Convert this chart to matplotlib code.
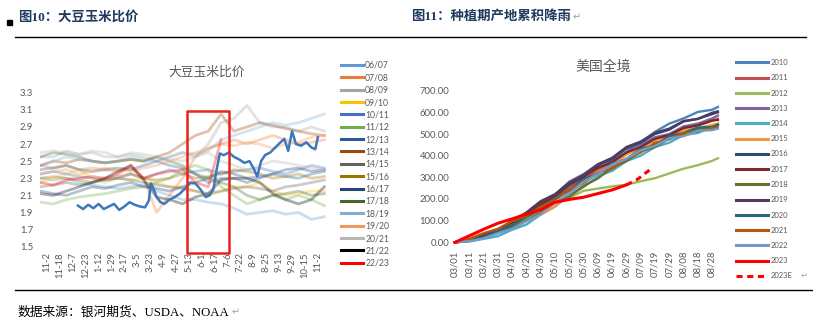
import matplotlib
matplotlib.use("Agg")
import matplotlib.pyplot as plt
import numpy as np
from matplotlib.lines import Line2D
from matplotlib.patches import Rectangle

W, H = 813, 324
CJK = ["Noto Sans CJK SC", "DejaVu Sans"]
SERIF_CJK = ["Liberation Serif", "Noto Sans CJK SC", "DejaVu Sans"]
LATIN = ["Lato", "DejaVu Sans"]
GREY = "#595959"

# ---------------- soybean / corn price ratio ----------------
ratio_ticks = ["11-2", "11-18", "12-7", "12-23", "1-12", "1-29", "2-17", "3-5",
               "3-23", "4-9", "4-27", "5-13", "6-1", "6-17", "7-6", "7-22",
               "8-9", "8-25", "9-13", "9-29", "10-15", "11-2"]
ratio_pos = np.arange(-0.5, 22.0, 1.0)

r0607 = [2.30, 2.28, 2.30, 2.25, 2.22, 2.20, 2.18, 2.20, 2.22, 2.15, 2.10, 2.05,
         2.05, 2.02, 2.00, 1.95, 1.88, 1.90, 1.92, 1.88, 1.90, 1.82, 1.85]
r0708 = [2.45, 2.42, 2.45, 2.40, 2.42, 2.40, 2.38, 2.42, 2.30, 1.90, 2.10, 2.30,
         2.55, 2.65, 2.70, 2.75, 2.70, 2.75, 2.80, 2.75, 2.70, 2.72, 2.75]
r0809 = [2.55, 2.55, 2.62, 2.58, 2.60, 2.55, 2.55, 2.58, 2.55, 2.50, 2.55, 2.60,
         2.55, 2.70, 2.95, 3.00, 3.15, 2.95, 2.90, 2.90, 2.85, 2.90, 2.85]
r0910 = [2.25, 2.30, 2.35, 2.40, 2.30, 2.25, 2.30, 2.28, 2.30, 2.25, 2.20, 2.20,
         2.15, 2.10, 2.15, 2.20, 2.20, 2.25, 2.15, 2.10, 2.12, 2.15, 2.15]
r1011 = [2.35, 2.38, 2.35, 2.32, 2.30, 2.28, 2.30, 2.35, 2.30, 2.35, 2.40, 2.35,
         2.38, 2.40, 2.35, 2.38, 2.40, 2.42, 2.38, 2.35, 2.40, 2.45, 2.42]
r1112 = [2.02, 2.00, 2.05, 2.08, 2.10, 2.12, 2.15, 2.18, 2.20, 2.25, 2.30, 2.40,
         2.45, 2.40, 2.20, 2.10, 2.00, 2.05, 2.10, 2.05, 2.10, 2.05, 1.98]
r1213 = [2.40, 2.42, 2.45, 2.40, 2.38, 2.40, 2.42, 2.40, 2.45, 2.50, 2.45, 2.42,
         2.35, 2.25, 2.30, 2.30, 2.25, 2.30, 2.35, 2.32, 2.30, 2.35, 2.38]
r1314 = [2.45, 2.50, 2.48, 2.52, 2.50, 2.48, 2.50, 2.52, 2.50, 2.55, 2.60, 2.70,
         2.80, 2.85, 3.05, 2.85, 2.90, 2.95, 2.92, 2.88, 2.85, 2.82, 2.80]
r1415 = [2.20, 2.22, 2.25, 2.22, 2.25, 2.28, 2.30, 2.28, 2.25, 2.22, 2.20, 2.18,
         2.15, 2.12, 2.15, 2.18, 2.20, 2.18, 2.15, 2.20, 2.22, 2.25, 2.28]
r1516 = [2.30, 2.32, 2.30, 2.28, 2.25, 2.30, 2.32, 2.35, 2.30, 2.28, 2.30, 2.35,
         2.30, 2.32, 2.35, 2.40, 2.38, 2.35, 2.30, 2.32, 2.35, 2.30, 2.32]
r1617 = [2.15, 2.12, 2.10, 2.15, 2.20, 2.18, 2.22, 2.25, 2.20, 2.18, 2.15, 2.20,
         2.25, 2.30, 2.38, 2.35, 2.30, 2.32, 2.35, 2.40, 2.42, 2.38, 2.40]
r1718 = [2.55, 2.60, 2.58, 2.55, 2.50, 2.48, 2.50, 2.52, 2.50, 2.55, 2.50, 2.45,
         2.35, 2.30, 2.25, 2.20, 2.10, 2.05, 2.10, 2.12, 2.15, 2.10, 2.12]
r1819 = [2.45, 2.50, 2.55, 2.52, 2.50, 2.48, 2.50, 2.55, 2.52, 2.50, 2.55, 2.60,
         2.58, 2.62, 2.75, 2.80, 2.85, 2.90, 2.95, 2.92, 2.95, 3.00, 3.05]
r1920 = [2.35, 2.38, 2.40, 2.35, 2.38, 2.42, 2.40, 2.38, 2.42, 2.45, 2.50, 2.55,
         2.60, 2.65, 2.70, 2.68, 2.72, 2.70, 2.65, 2.70, 2.72, 2.78, 2.80]
r2021 = [2.60, 2.62, 2.60, 2.58, 2.62, 2.60, 2.55, 2.60, 2.58, 2.55, 2.52, 2.50,
         2.55, 2.60, 2.50, 2.45, 2.40, 2.45, 2.50, 2.48, 2.45, 2.42, 2.40]
r2122 = [2.12, 2.10, 2.15, 2.20, 2.25, 2.30, 2.38, 2.45, 2.28, 2.08, 2.05, 2.00,
         2.08, 2.12, 2.28, 2.30, 2.30, 2.25, 2.12, 2.05, 2.00, 2.05, 2.20]
r2223 = [2.25, 2.22, 2.28, 2.30, 2.32, 2.30, 2.35, 2.45, 2.30, 2.35, 2.38, 2.40,
         2.25, 2.20, 2.75]

ratio_labels = ["06/07", "07/08", "08/09", "09/10", "10/11", "11/12", "12/13",
                "13/14", "14/15", "15/16", "16/17", "17/18", "18/19", "19/20",
                "20/21", "21/22", "22/23"]
ratio_series = [r0607, r0708, r0809, r0910, r1011, r1112, r1213, r1314, r1415,
                r1516, r1617, r1718, r1819, r1920, r2021, r2122, r2223]
ratio_colors = ["#5B9BD5", "#ED7D31", "#A5A5A5", "#FFC000", "#4472C4", "#70AD47",
                "#255E91", "#9E480E", "#636363", "#997300", "#264478", "#43682B",
                "#7CAFDD", "#F1975A", "#B7B7B7", "#000000", "#FF0000"]

# highlighted current line
bold_x = [2.4, 2.8, 3.2, 3.6, 4.0, 4.4, 4.8, 5.2, 5.6, 6.0, 6.4, 6.8, 7.2, 7.6,
          7.9, 8.05, 8.2, 8.5, 8.8, 9.1, 9.5, 9.9, 10.3, 10.7, 11.1, 11.5, 11.9,
          12.3, 12.6, 12.9, 13.15, 13.4, 13.7, 14.1, 14.5, 14.9, 15.3, 15.7,
          16.0, 16.3, 16.6, 16.9, 17.3, 17.7, 18.1, 18.4, 18.7, 19.0, 19.3,
          19.7, 20.1, 20.5, 20.8, 21.0]
bold_y = [1.98, 1.94, 1.99, 1.95, 2.00, 1.94, 1.97, 2.00, 1.93, 1.97, 2.02, 1.99,
          1.97, 1.96, 2.04, 2.24, 2.20, 2.08, 2.02, 2.00, 2.05, 2.08, 2.12, 2.18,
          2.25, 2.24, 2.17, 2.08, 2.10, 2.17, 2.40, 2.59, 2.57, 2.60, 2.55, 2.52,
          2.48, 2.50, 2.42, 2.32, 2.50, 2.57, 2.60, 2.66, 2.72, 2.76, 2.62, 2.85,
          2.70, 2.68, 2.72, 2.66, 2.64, 2.78]

window_x = (10.85, 14.1)
window_y = (1.43, 3.09)

# ---------------- cumulative rainfall ----------------
rain_ticks = ["03/01", "03/11", "03/21", "03/31", "04/10", "04/20", "04/30",
              "05/10", "05/20", "05/30", "06/09", "06/19", "06/29", "07/09",
              "07/19", "07/29", "08/08", "08/18", "08/28"]
rain_days = [0, 10, 20, 30, 40, 50, 60, 70, 80, 90, 100, 110, 120, 130, 140,
             150, 160, 170, 180, 184]

y2010 = [0, 8, 22, 48, 72, 112, 148, 198, 240, 292, 330, 378, 415, 462, 510, 548, 572, 602, 612, 625]
y2011 = [0, 14, 32, 52, 88, 118, 165, 200, 255, 290, 340, 365, 410, 435, 475, 495, 528, 540, 562, 570]
y2012 = [0, 10, 26, 52, 75, 112, 140, 182, 205, 238, 248, 258, 266, 282, 296, 318, 340, 356, 376, 388]
y2013 = [0, 10, 28, 48, 90, 132, 185, 220, 280, 315, 360, 385, 430, 450, 485, 500, 535, 548, 572, 585]
y2014 = [0, 4, 16, 28, 58, 82, 128, 165, 218, 255, 305, 330, 375, 400, 440, 460, 495, 505, 532, 545]
y2015 = [0, 12, 28, 58, 78, 98, 128, 165, 230, 270, 325, 355, 405, 435, 472, 490, 518, 528, 542, 548]
y2016 = [0, 12, 36, 58, 94, 122, 172, 212, 265, 300, 355, 385, 435, 460, 500, 520, 558, 570, 598, 605]
y2017 = [0, 10, 32, 55, 92, 128, 178, 216, 272, 305, 345, 370, 415, 440, 478, 495, 528, 540, 562, 565]
y2018 = [0, 8, 24, 48, 68, 102, 136, 185, 210, 260, 295, 345, 375, 420, 440, 480, 495, 524, 532, 545]
y2019 = [0, 10, 32, 58, 98, 138, 190, 222, 275, 310, 360, 390, 440, 465, 505, 525, 560, 570, 592, 600]
y2020 = [0, 8, 22, 52, 78, 118, 152, 204, 240, 290, 315, 360, 385, 430, 450, 490, 505, 530, 532, 540]
y2021 = [0, 16, 42, 62, 98, 122, 164, 196, 245, 275, 320, 340, 385, 415, 460, 475, 505, 512, 528, 530]
y2022 = [0, 5, 18, 42, 62, 98, 130, 185, 225, 280, 315, 360, 385, 425, 445, 480, 490, 515, 518, 525]

days_2023 = [0, 10, 20, 30, 40, 50, 60, 70, 80, 90, 100, 110, 120]
y2023 = [0, 30, 60, 88, 108, 130, 150, 185, 198, 208, 225, 242, 265]
days_2023e = [120, 128, 133, 138]
y2023e = [265, 292, 318, 342]

rain_labels = ["2010", "2011", "2012", "2013", "2014", "2015", "2016", "2017",
               "2018", "2019", "2020", "2021", "2022"]
rain_series = [y2010, y2011, y2012, y2013, y2014, y2015, y2016, y2017, y2018,
               y2019, y2020, y2021, y2022]
rain_colors = ["#4F81BD", "#C0504D", "#9BBB59", "#8064A2", "#4BACC6", "#F79646",
               "#2C4D75", "#772C2A", "#5F7530", "#4D3B62", "#276A7C", "#B65708",
               "#729ACA"]


def px_axes(fig, left, top, right, bottom):
    """axes from pixel box measured from the top-left corner"""
    return fig.add_axes([left / W, 1 - bottom / H, (right - left) / W, (bottom - top) / H])


def return_mark(ax, anchor, size=7):
    """grey paragraph mark right after a text"""
    ax.annotate("↵", xy=(1, 0.45), xycoords=anchor, xytext=(1, 0),
                textcoords="offset points", fontsize=size, color="#A0A0A0",
                va="center", ha="left", family=["DejaVu Sans"],
                annotation_clip=False)


fig = plt.figure(figsize=(W / 100, H / 100), dpi=100)

# page decorations
fig.add_artist(Line2D([15 / W, 806 / W], [1 - 37 / H] * 2, color="black", lw=1.0))
fig.add_artist(Line2D([15 / W, 812 / W], [1 - 290 / H] * 2, color="black", lw=1.0))
fig.add_artist(Rectangle((7 / W, 1 - 25 / H), 5 / W, 5 / H, color="black"))
fig.text(18 / W, 1 - 17 / H, "图10：大豆玉米比价", family=SERIF_CJK, weight="bold",
         fontsize=9.6, color="#1F3A5F", va="center")
title2 = fig.text(411 / W, 1 - 17 / H, "图11：种植期产地累积降雨", family=SERIF_CJK,
                  weight="bold", fontsize=9.6, color="#1F3A5F", va="center")
source = fig.text(18 / W, 1 - 312 / H, "数据来源：银河期货、USDA、NOAA", family=SERIF_CJK,
                  fontsize=9.2, color="black", va="center")

# ---- left chart ----
ax1 = px_axes(fig, 40, 92.7, 330, 246.7)
for label, vals, col in zip(ratio_labels, ratio_series, ratio_colors):
    ax1.plot(ratio_pos[:len(vals)], vals, color=col, lw=2.0, alpha=0.33,
             solid_joinstyle="round")
ax1.plot(bold_x, bold_y, color="#3D78B8", lw=1.8, solid_joinstyle="round")
ax1.add_patch(Rectangle((window_x[0], window_y[0]), window_x[1] - window_x[0],
                        window_y[1] - window_y[0], fill=False, ec="#E8231C",
                        lw=1.8, joinstyle="round", clip_on=False, zorder=5))
ax1.set_xlim(-0.54, 21.94)
ax1.set_ylim(1.5, 3.3)
ax1.set_yticks(np.arange(1.5, 3.31, 0.2))
ax1.set_yticklabels([f"{v:.1f}" for v in np.arange(1.5, 3.31, 0.2)])
ax1.set_xticks(range(len(ratio_ticks)))
ax1.set_xticklabels(ratio_ticks, rotation=90)
ax1.tick_params(length=0, labelsize=6.8, labelcolor=GREY)
ax1.tick_params(axis="y", pad=5)
ax1.tick_params(axis="x", pad=4)
for lab in ax1.get_xticklabels() + ax1.get_yticklabels():
    lab.set_family(LATIN)
for s in ax1.spines.values():
    s.set_visible(False)
ax1.set_facecolor("none")
fig.text(207 / W, 1 - 72 / H, "大豆玉米比价", family=CJK, fontsize=9.2,
         color=GREY, ha="center", va="center")

handles = [Line2D([], [], color=c, lw=2.2) for c in ratio_colors]
fig.legend(handles, ratio_labels, loc="upper left",
           bbox_to_anchor=(341 / W, 1 - 61 / H), frameon=False,
           handlelength=2.6, handletextpad=0.2, labelspacing=0.39,
           borderpad=0, borderaxespad=0, labelcolor=GREY,
           prop={"family": LATIN, "size": 6.2})

# ---- right chart ----
ax2 = px_axes(fig, 455, 90.7, 725, 242.3)
for label, vals, col in zip(rain_labels, rain_series, rain_colors):
    ax2.plot(rain_days, vals, color=col, lw=1.7, clip_on=False,
             solid_joinstyle="round")
ax2.plot(days_2023, y2023, color="#FF0000", lw=2.2, clip_on=False)
ax2.plot(days_2023e, y2023e, color="#FF0000", lw=2.2, ls=(0, (2, 1.5)), clip_on=False)
ax2.set_xlim(0, 189)
ax2.set_ylim(0, 700)
ax2.set_yticks(range(0, 701, 100))
ax2.set_yticklabels([f"{v:.2f}" for v in range(0, 701, 100)])
ax2.set_xticks(range(0, 181, 10))
ax2.set_xticklabels(rain_ticks, rotation=90)
ax2.tick_params(length=0, labelsize=6.8, labelcolor=GREY)
ax2.tick_params(axis="y", pad=4)
ax2.tick_params(axis="x", pad=6)
for lab in ax2.get_xticklabels() + ax2.get_yticklabels():
    lab.set_family(LATIN)
for s in ax2.spines.values():
    s.set_visible(False)
ax2.set_facecolor("none")
fig.text(603 / W, 1 - 67 / H, "美国全境", family=CJK, fontsize=10,
         color=GREY, ha="center", va="center")

handles2 = [Line2D([], [], color=c, lw=2.2) for c in rain_colors]
handles2 += [Line2D([], [], color="#FF0000", lw=2.2),
             Line2D([], [], color="#FF0000", lw=2.2, ls=(0, (2, 1.5)))]
fig.legend(handles2, rain_labels + ["2023", "2023E"], loc="upper left",
           bbox_to_anchor=(736 / W, 1 - 59 / H), frameon=False,
           handlelength=4.2, handletextpad=0.3, labelspacing=1.08,
           borderpad=0, borderaxespad=0, labelcolor=GREY,
           prop={"family": LATIN, "size": 5.5})

return_mark(ax2, title2, 7)
return_mark(ax1, source, 7)
fig.text(801 / W, 1 - 275 / H, "↵", fontsize=6, color="#A0A0A0", va="center",
         family=["DejaVu Sans"])

fig.savefig("out.png", dpi=100)
